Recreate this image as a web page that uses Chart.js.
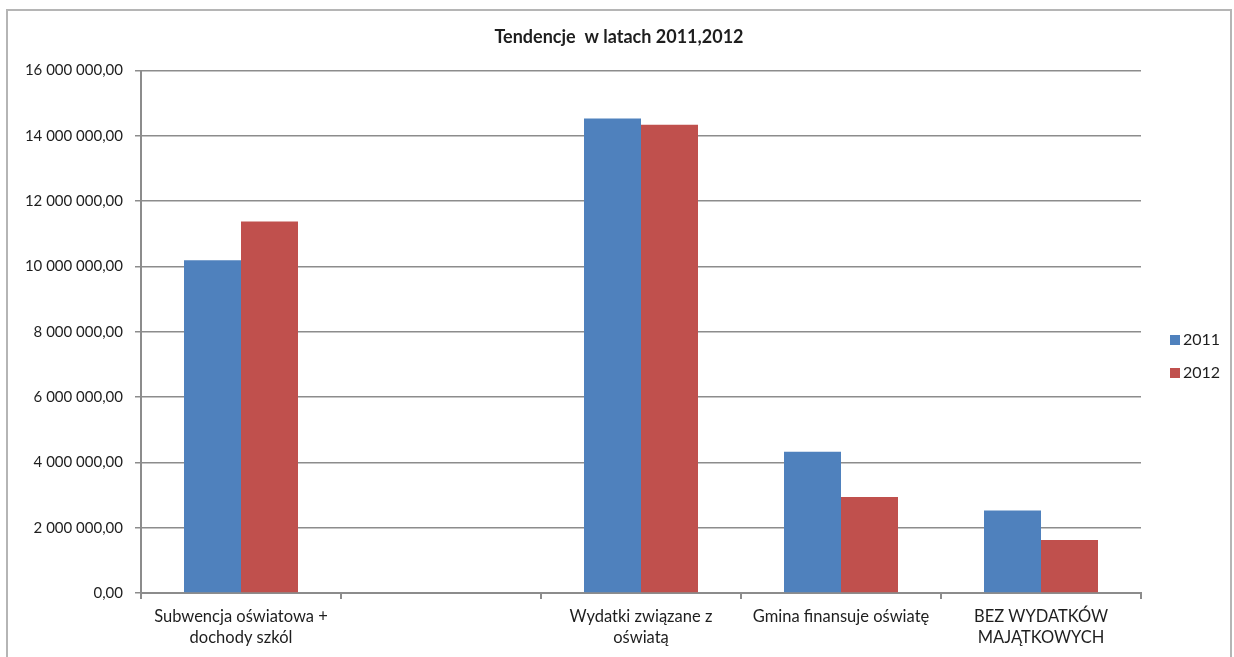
<!DOCTYPE html>
<html>
<head>
<meta charset="utf-8">
<script src="https://cdn.jsdelivr.net/npm/chart.js@4/dist/chart.umd.min.js"></script>
<style>
body { margin: 0; background: #fff; overflow: hidden; }
#frame { position: absolute; left: 6px; top: 9px; width: 1222px; height: 660px; border: 2px solid #b5b5b5; }
#wrap { position: absolute; left: 0; top: 0; width: 1222px; height: 646px; }
</style>
</head>
<body>
<div id="frame"><div id="wrap"><canvas id="chart"></canvas></div></div>
<script>
// Data
const categories = [
  ['Subwencja oświatowa +', 'dochody szkól'],
  '',
  ['Wydatki związane z', 'oświatą'],
  'Gmina finansuje oświatę',
  ['BEZ WYDATKÓW', 'MAJĄTKOWYCH']
];
const seriesNames = ['2011', '2012'];
const values2011 = [10190000, null, 14530000, 4330000, 2530000];
const values2012 = [11380000, null, 14340000, 2940000, 1620000];
const yTicks = [0, 2000000, 4000000, 6000000, 8000000, 10000000, 12000000, 14000000, 16000000];

const colours = ['#4F81BD', '#C0504D'];
const textColour = '#1e1e1e';
const gridColour = '#8c8c8c';

// 16 000 000,00
function plNumber(v) {
  var parts = v.toFixed(2).split('.');
  return parts[0].replace(/\B(?=(\d{3})+$)/g, ' ') + ',' + parts[1];
}

// legend drawn to the right of the plot, like the Excel one
const sideLegend = {
  id: 'sideLegend',
  afterDraw(chart) {
    const ctx = chart.ctx;
    const x = chart.chartArea.right + 29;
    const ys = [329, 362];
    ctx.save();
    ctx.font = '16px Lato';
    ctx.textBaseline = 'middle';
    ctx.textAlign = 'left';
    chart.data.datasets.forEach(function(ds, i) {
      ctx.fillStyle = ds.backgroundColor;
      ctx.fillRect(x, ys[i] - 5, 10, 10);
      ctx.fillStyle = textColour;
      ctx.fillText(ds.label, x + 13, ys[i]);
    });
    ctx.restore();
  }
};

const config = {
  type: 'bar',
  data: {
    labels: categories,
    datasets: [
      { label: seriesNames[0], data: values2011, backgroundColor: colours[0] },
      { label: seriesNames[1], data: values2012, backgroundColor: colours[1] }
    ]
  },
  options: {
    responsive: true,
    maintainAspectRatio: false,
    animation: false,
    layout: { padding: 0 },
    datasets: {
      bar: { categoryPercentage: 0.57, barPercentage: 1.0, borderWidth: 0 }
    },
    plugins: {
      legend: { display: false },
      tooltip: { enabled: false },
      title: {
        display: true,
        text: 'Tendencje  w latach 2011,2012',
        color: textColour,
        font: { family: 'Lato', size: 18, weight: 'bold', lineHeight: 1.2 },
        padding: { top: 15, bottom: 23 }
      }
    },
    scales: {
      x: {
        offset: true,
        border: { display: true, color: gridColour, width: 2 },
        grid: { display: true, drawOnChartArea: false, drawTicks: true, tickLength: 6, color: gridColour, lineWidth: 2 },
        ticks: {
          color: textColour,
          font: { family: 'Lato', size: 16.5, lineHeight: 1.22 },
          padding: 8,
          maxRotation: 0,
          autoSkip: false
        },
        afterFit(scale) { scale.height = 64; }
      },
      y: {
        min: 0,
        max: 16000000,
        border: { display: true, color: gridColour, width: 2 },
        grid: { color: gridColour, lineWidth: 1.5, tickLength: 6 },
        afterBuildTicks(scale) { scale.ticks = yTicks.map(function(v) { return { value: v }; }); },
        ticks: {
          color: textColour,
          font: { family: 'Lato', size: 15 },
          padding: 12,
          callback: function(v) { return plNumber(v); }
        },
        afterFit(scale) { scale.width = 133; }
      },
      // empty right axis keeps room for the legend so the title stays centred on the page
      yRight: {
        position: 'right',
        display: true,
        border: { display: false },
        grid: { display: false },
        ticks: { display: false },
        afterFit(scale) { scale.width = 89; }
      }
    }
  },
  plugins: [sideLegend]
};

var chart = new Chart(document.getElementById('chart'), config);
</script>
</body>
</html>
